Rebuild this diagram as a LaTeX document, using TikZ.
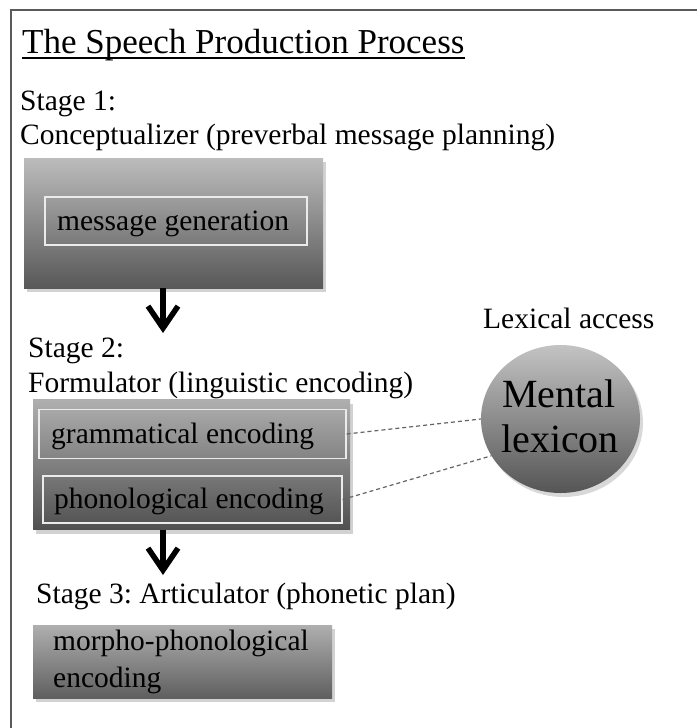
\documentclass[tikz,border=0pt]{standalone}
\usepackage{fontspec}
\setmainfont{Liberation Serif}
\usetikzlibrary{shadows,arrows.meta,shapes.geometric}
\frenchspacing
\begin{document}
\begin{tikzpicture}[x=1pt,y=-1pt,
  txt/.style={anchor=base west, inner sep=0pt, font=\fontsize{29.5}{36}\selectfont},
  outerbox/.style={draw=none, inner sep=0pt,
    top color={rgb,255:red,188;green,188;blue,188},
    bottom color={rgb,255:red,88;green,88;blue,88},
    drop shadow={opacity=0.35, shadow xshift=3pt, shadow yshift=-4pt}},
  innerbox/.style={draw={rgb,255:red,235;green,235;blue,235}, line width=1.2pt, inner sep=0pt},
  bigarrow/.style={line width=5.5pt, -{Straight Barb[length=22pt,width=30pt]}},
  link/.style={draw={rgb,255:red,100;green,100;blue,100}, line width=1.2pt, dash pattern=on 4pt off 3pt}
]
\useasboundingbox (0,0) rectangle (697,728);
\fill[white] (0,0) rectangle (697,728);
% frame
\draw[line width=2pt, draw={rgb,255:red,90;green,90;blue,90}] (697,10) -- (11,10) -- (11,728);

% title
\node[txt, font=\fontsize{35}{40}\selectfont] (title) at (22,53) {The Speech Production Process};
\draw[line width=1.3pt] ([yshift=-5pt]title.base west) -- ([yshift=-5pt]title.base east);

% stage 1
\node[txt] (s1) at (20,110) {Stage 1:};
\node[txt] (s1b) at (20,144) {Conceptualizer (preverbal message planning)};
\node[outerbox, minimum width=299pt, minimum height=130pt] (c1) at (173.5,223) {};
\node[innerbox, minimum width=262pt, minimum height=48pt] (mg) at (176,221) {};
\node[txt] (mgt) at (57,230) {message generation};

% arrow 1
\coordinate (a1) at (163,333);
\draw[bigarrow] (c1.south -| a1) -- (a1);

% stage 2
\node[txt] (s2) at (28,357) {Stage 2:};
\node[txt] (s2b) at (28,392) {Formulator (linguistic encoding)};
\node[outerbox, minimum width=317pt, minimum height=130pt,
  top color={rgb,255:red,175;green,175;blue,175},
  bottom color={rgb,255:red,80;green,80;blue,80}] (c2) at (191.5,464.5) {};
\node[innerbox, minimum width=307pt, minimum height=49pt] (gram) at (192.5,434) {};
\node[txt] (gramt) at (51,443) {grammatical encoding};
\node[innerbox, minimum width=299pt, minimum height=47pt] (phon) at (192.5,499.5) {};
\node[txt] (phont) at (54,508) {phonological encoding};

% mental lexicon
\node[txt] (lex) at (483,328) {Lexical access};
\node[ellipse, draw=none, inner sep=0pt, minimum width=159pt, minimum height=148pt,
  top color={rgb,255:red,195;green,195;blue,195},
  bottom color={rgb,255:red,85;green,85;blue,85},
  drop shadow={opacity=0.3, shadow xshift=3pt, shadow yshift=-4pt}] (ml) at (560.5,419) {};
\node[anchor=base, inner sep=0pt, font=\fontsize{40}{45}\selectfont] (mlt1) at (559,407) {Mental};
\node[anchor=base, inner sep=0pt, font=\fontsize{40}{45}\selectfont] (mlt2) at (560,452) {lexicon};
\draw[link] (gram.east) -- (ml.west);
\draw[link] (phon.east) -- (ml.208);

% arrow 2
\coordinate (a2) at (163,575);
\draw[bigarrow] (c2.south -| a2) -- (a2);

% stage 3
\node[txt] (s3) at (36,603) {Stage 3: Articulator (phonetic plan)};
\node[outerbox, minimum width=299pt, minimum height=73pt,
  top color={rgb,255:red,175;green,175;blue,175},
  bottom color={rgb,255:red,95;green,95;blue,95}] (c3) at (182.5,661.5) {};
\node[txt] (mp1) at (53,650) {morpho-phonological};
\node[txt] (mp2) at (53,687) {encoding};
\end{tikzpicture}
\end{document}
